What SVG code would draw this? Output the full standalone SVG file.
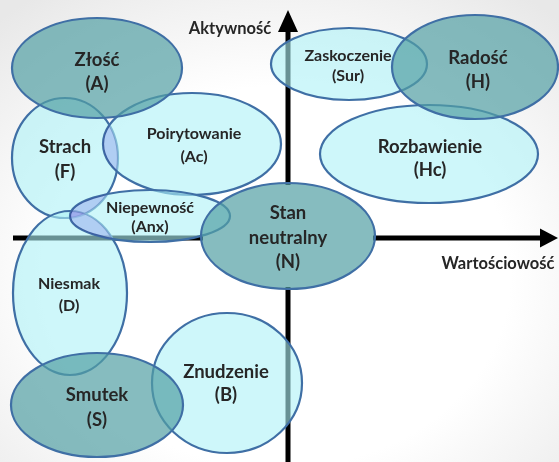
<svg xmlns="http://www.w3.org/2000/svg" width="559" height="462" viewBox="0 0 559 462">
  <defs>
    <radialGradient id="bg" cx="50%" cy="60%" r="75%">
      <stop offset="0.55" stop-color="#ffffff"/>
      <stop offset="1" stop-color="#e8e8e8"/>
    </radialGradient>
    <clipPath id="clipStrach"><ellipse cx="65" cy="158" rx="53" ry="60"/></clipPath>
    <clipPath id="clipNiesmak"><ellipse cx="70" cy="293" rx="57" ry="82"/></clipPath>
    <style>
      .light { fill: #aef2f7; fill-opacity: 0.6; stroke: #3f6fa5; stroke-width: 2.2; }
      .dark { fill: #529fa4; fill-opacity: 0.7; stroke: #3f6fa5; stroke-width: 2.2; }
      .mix { fill: #f1d8fa; mix-blend-mode: multiply; }
      .axis { stroke: #000; stroke-width: 5; fill: none; }
      .head { fill: #000; }
      text { font-family: Lato, "Open Sans", "Liberation Sans", sans-serif; font-weight: bold; fill: #262626; text-anchor: middle; }
      .big { font-size: 18.5px; }
      .small { font-size: 16px; }
      .axlabel { font-size: 16.5px; }
    </style>
  </defs>

  <rect width="559" height="462" fill="url(#bg)"/>

  <!-- axes, interrupted where the neutral-state ellipse sits -->
  <g id="connectors">
    <line class="axis" x1="288" y1="30" x2="288" y2="185"/>
    <line class="axis" x1="288" y1="287" x2="288" y2="462"/>
    <polygon class="head" points="288,10 278,32 298,32"/>
    <line class="axis" x1="13" y1="238" x2="203" y2="238"/>
    <line class="axis" x1="373" y1="238" x2="542" y2="238"/>
    <polygon class="head" points="558,238 540,228.5 540,247.5"/>
  </g>
  <text class="axlabel" x="230" y="34">Aktywność</text>
  <text class="axlabel" x="498" y="269">Wartościowość</text>

  <!-- low-intensity states -->
  <g id="strach">
    <ellipse class="light" cx="65" cy="158" rx="53" ry="60"/>
    <text class="big" x="65" y="153">Strach</text>
    <text class="big" x="65" y="178">(F)</text>
  </g>
  <g id="poirytowanie">
    <ellipse class="light" cx="192" cy="144" rx="89" ry="51"/>
    <text class="small" x="194" y="139">Poirytowanie</text>
    <text class="small" x="194" y="162">(Ac)</text>
  </g>
  <g id="niesmak">
    <ellipse class="light" cx="70" cy="293" rx="57" ry="82"/>
    <text class="small" x="69" y="289">Niesmak</text>
    <text class="small" x="69" y="311">(D)</text>
  </g>
  <g id="niepewnosc">
    <ellipse class="light" cx="150" cy="216" rx="80" ry="26"/>
    <text class="small" x="150" y="213">Niepewność</text>
    <text class="small" x="150" y="232">(Anx)</text>
  </g>
  <g id="znudzenie">
    <ellipse class="light" cx="227" cy="383" rx="75" ry="70"/>
    <text class="big" x="226" y="378">Znudzenie</text>
    <text class="big" x="226" y="401">(B)</text>
  </g>
  <g id="zaskoczenie">
    <ellipse class="light" cx="349" cy="64" rx="78" ry="36"/>
    <text class="small" x="348" y="61">Zaskoczenie</text>
    <text class="small" x="348" y="81">(Sur)</text>
  </g>
  <g id="rozbawienie">
    <ellipse class="light" cx="429" cy="154" rx="109" ry="49"/>
    <text class="big" x="430" y="153">Rozbawienie</text>
    <text class="big" x="430" y="176">(Hc)</text>
  </g>

  <!-- bluish tint where light ellipses overlap -->
  <g id="overlaps">
    <ellipse class="mix" cx="192" cy="144" rx="89" ry="51" clip-path="url(#clipStrach)"/>
    <ellipse class="mix" cx="150" cy="216" rx="80" ry="26" clip-path="url(#clipStrach)"/>
    <ellipse class="mix" cx="150" cy="216" rx="80" ry="26" clip-path="url(#clipNiesmak)"/>
  </g>

  <!-- high-intensity states -->
  <g id="zlosc">
    <ellipse class="dark" cx="97" cy="68" rx="85" ry="50"/>
    <text class="big" x="97" y="66">Złość</text>
    <text class="big" x="97" y="90">(A)</text>
  </g>
  <g id="smutek">
    <ellipse class="dark" cx="97" cy="405" rx="86" ry="52"/>
    <text class="big" x="97" y="401">Smutek</text>
    <text class="big" x="97" y="426">(S)</text>
  </g>
  <g id="radosc">
    <ellipse class="dark" cx="475" cy="67" rx="83" ry="52"/>
    <text class="big" x="478" y="64">Radość</text>
    <text class="big" x="478" y="88">(H)</text>
  </g>
  <g id="stan">
    <ellipse class="dark" cx="288" cy="236" rx="87" ry="53"/>
    <text class="big" x="288" y="219">Stan</text>
    <text class="big" x="288" y="244">neutralny</text>
    <text class="big" x="288" y="268">(N)</text>
  </g>
</svg>
